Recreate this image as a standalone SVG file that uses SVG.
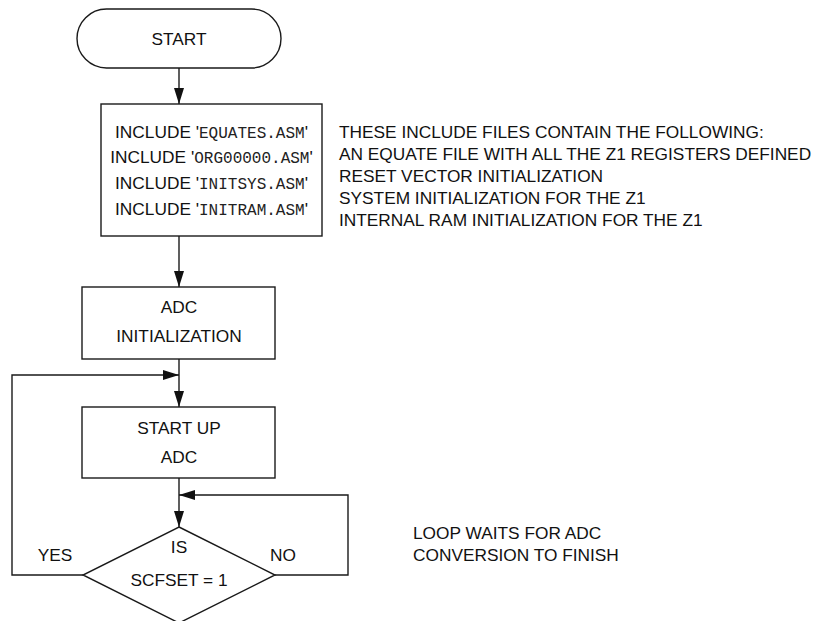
<svg xmlns="http://www.w3.org/2000/svg" width="817" height="621" viewBox="0 0 817 621">
  <style>
    .shape { fill: #fff; stroke: #1a1a1a; stroke-width: 1.4; }
    .wire { fill: none; stroke: #1a1a1a; stroke-width: 1.4; }
    .lbl { font-family: "Liberation Sans", Arial, sans-serif; font-size: 17.3px; fill: #111; }
    .mid { text-anchor: middle; }
    .mono { font-family: "Liberation Mono", "Courier New", monospace; font-size: 16px; fill: #222; }
  </style>
  <defs>
    <marker id="ah" markerUnits="userSpaceOnUse" markerWidth="16" markerHeight="10" viewBox="0 0 16 10" refX="16" refY="5" orient="auto">
      <path d="M0,0 L16,5 L0,10 Z" fill="#111"/>
    </marker>
  </defs>

  <!-- connectors -->
  <g id="connectors">
    <line class="wire" x1="179" y1="68" x2="179" y2="104" marker-end="url(#ah)"/>
    <line class="wire" x1="179" y1="236" x2="179" y2="287" marker-end="url(#ah)"/>
    <line class="wire" x1="179" y1="359" x2="179" y2="407" marker-end="url(#ah)"/>
    <line class="wire" x1="179" y1="478" x2="179" y2="527" marker-end="url(#ah)"/>
    <!-- YES branch back to start-up -->
    <polyline class="wire" points="83,575 12,575 12,375 179,375" marker-end="url(#ah)"/>
    <!-- NO branch loops back to the test -->
    <polyline class="wire" points="275,575 348,575 348,495 179,495" marker-end="url(#ah)"/>
  </g>

  <g id="start">
    <rect class="shape" x="77" y="9" width="204" height="59" rx="29.5" ry="29.5"/>
    <text class="lbl mid" x="179" y="45">START</text>
  </g>

  <g id="includes">
    <rect class="shape" x="101" y="104" width="221" height="132"/>
    <text class="lbl mid" x="211.5" y="138">INCLUDE '<tspan class="mono">EQUATES.ASM</tspan>'</text>
    <text class="lbl mid" x="211.5" y="163">INCLUDE '<tspan class="mono">ORG00000.ASM</tspan>'</text>
    <text class="lbl mid" x="211.5" y="189">INCLUDE '<tspan class="mono">INITSYS.ASM</tspan>'</text>
    <text class="lbl mid" x="211.5" y="215">INCLUDE '<tspan class="mono">INITRAM.ASM</tspan>'</text>
  </g>

  <g id="include-note">
    <text class="lbl" x="339" y="138">THESE INCLUDE FILES CONTAIN THE FOLLOWING:</text>
    <text class="lbl" x="339" y="160">AN EQUATE FILE WITH ALL THE Z1 REGISTERS DEFINED</text>
    <text class="lbl" x="339" y="182">RESET VECTOR INITIALIZATION</text>
    <text class="lbl" x="339" y="204">SYSTEM INITIALIZATION FOR THE Z1</text>
    <text class="lbl" x="339" y="226">INTERNAL RAM INITIALIZATION FOR THE Z1</text>
  </g>

  <g id="adc-init">
    <rect class="shape" x="82" y="287" width="193" height="72"/>
    <text class="lbl mid" x="179" y="313">ADC</text>
    <text class="lbl mid" x="179" y="342">INITIALIZATION</text>
  </g>

  <g id="adc-startup">
    <rect class="shape" x="82" y="407" width="193" height="71"/>
    <text class="lbl mid" x="179" y="434">START UP</text>
    <text class="lbl mid" x="179" y="463">ADC</text>
  </g>

  <g id="scf-test">
    <polygon class="shape" points="179,527 275,575 179,623 83,575"/>
    <text class="lbl mid" x="179" y="553">IS</text>
    <text class="lbl mid" x="179" y="586">SCFSET = 1</text>
    <text class="lbl mid" x="55" y="561">YES</text>
    <text class="lbl mid" x="283" y="561">NO</text>
  </g>

  <g id="loop-note">
    <text class="lbl" x="413" y="539">LOOP WAITS FOR ADC</text>
    <text class="lbl" x="413" y="561">CONVERSION TO FINISH</text>
  </g>
</svg>
